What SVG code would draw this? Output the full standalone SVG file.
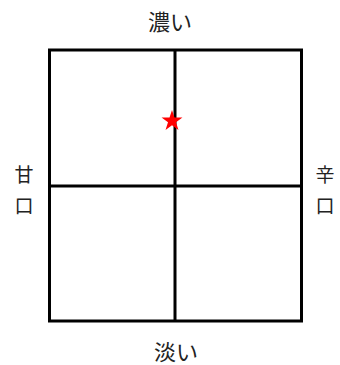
<svg xmlns="http://www.w3.org/2000/svg" width="340" height="365" viewBox="0 0 340 365">
<style>
.grid{fill:none;stroke:#000;stroke-width:3}
.lbl{font-family:"Noto Sans CJK JP","Noto Sans CJK SC",sans-serif;fill:#222;text-anchor:middle}
</style>
<rect x="0" y="0" width="340" height="365" fill="#fff"/>
<g id="grid">
<rect class="grid" x="49.5" y="50" width="252" height="271"/>
<line class="grid" x1="175" y1="50" x2="175" y2="321"/>
<line class="grid" x1="49.5" y1="186" x2="301.5" y2="186"/>
</g>
<g id="star">
<polygon fill="#ff0000" points="172,110 174.47,117.6 182.46,117.6 175.99,122.3 178.47,129.9 172,125.2 165.53,129.9 168.01,122.3 161.54,117.6 169.53,117.6"/>
</g>
<g id="label-top"><text class="lbl" x="170" y="30" font-size="22">濃い</text></g>
<g id="label-bottom"><text class="lbl" x="176" y="360" font-size="22">淡い</text></g>
<g id="label-left"><text class="lbl" font-size="19"><tspan x="24" y="182">甘</tspan><tspan x="24" y="213">口</tspan></text></g>
<g id="label-right"><text class="lbl" font-size="19"><tspan x="325" y="182">辛</tspan><tspan x="325" y="213">口</tspan></text></g>
</svg>
